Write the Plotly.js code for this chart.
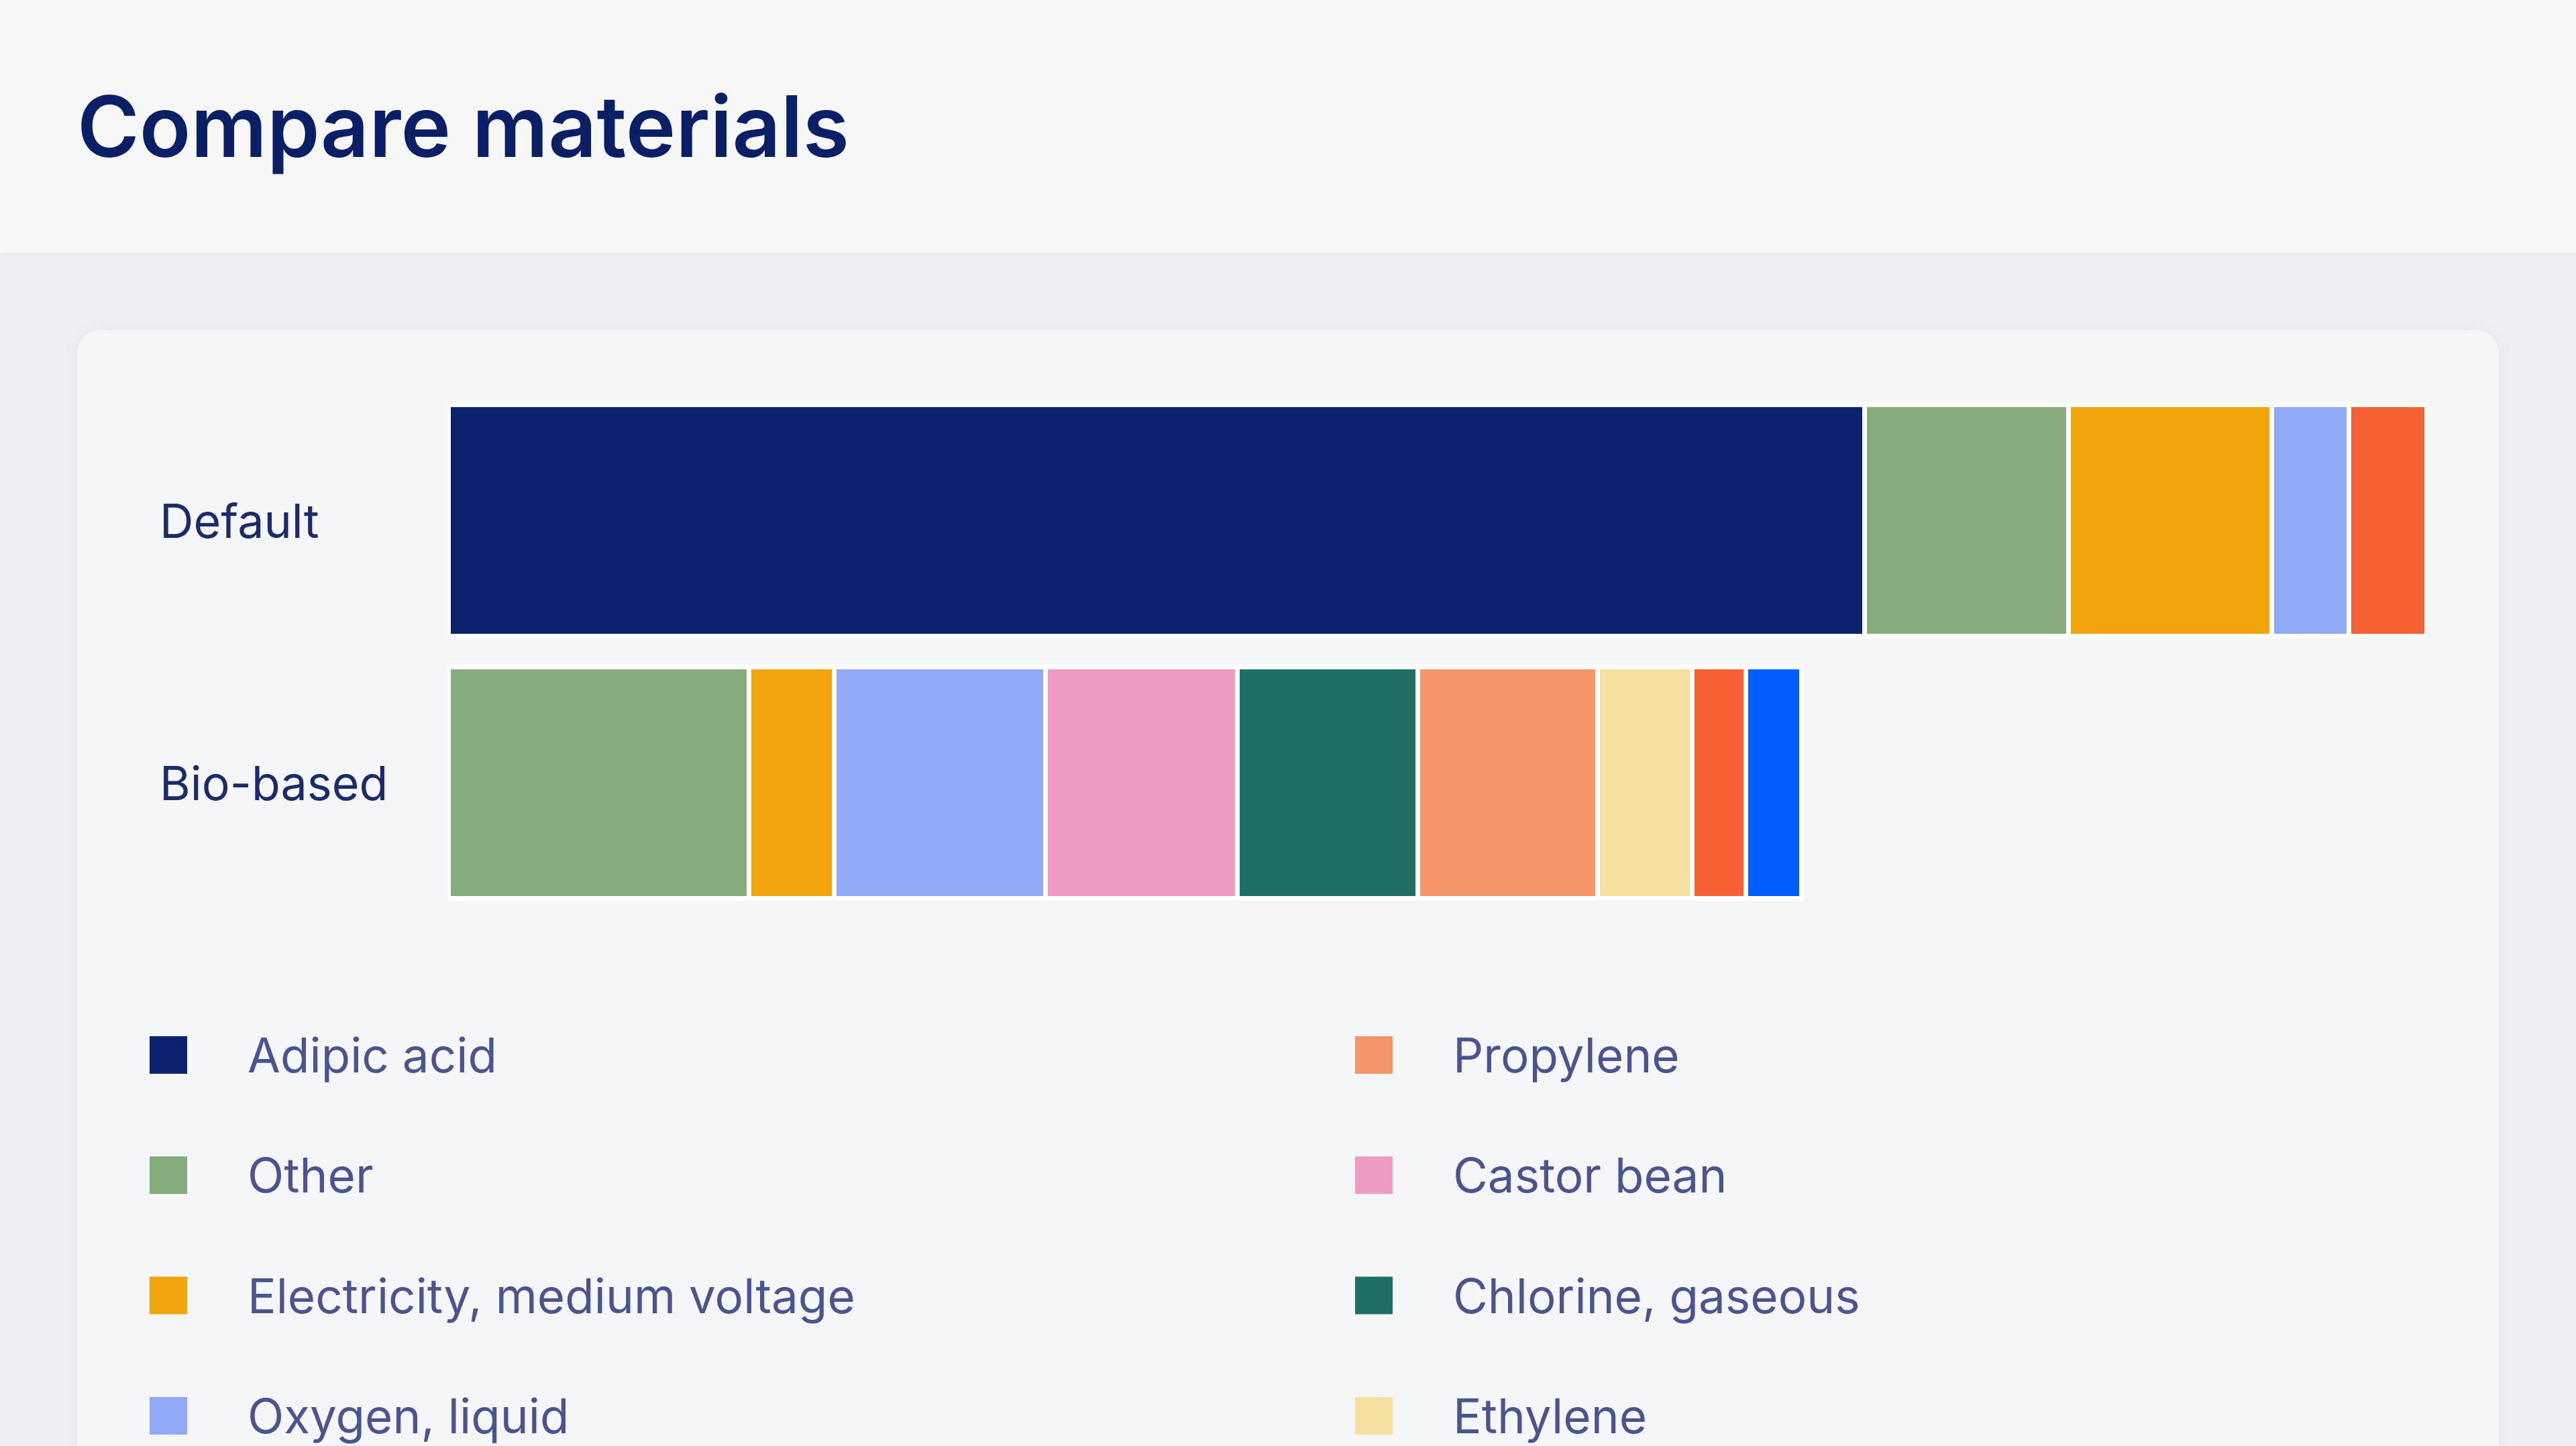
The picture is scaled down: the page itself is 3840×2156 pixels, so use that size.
<!DOCTYPE html>
<html>
<head>
<meta charset="utf-8">
<script src="https://cdn.plot.ly/plotly-3.0.1.min.js"></script>
<style>
  html, body { margin: 0; padding: 0; width: 3840px; height: 2156px; overflow: hidden; background: #eef0f4; }
  #header { position: absolute; left: 0; top: 0; width: 3840px; height: 377px; background: #f7f7f8; box-shadow: 0 2px 10px rgba(30,40,80,0.04); }
  #card { position: absolute; left: 115px; top: 492px; width: 3610px; height: 1900px; background: #f5f6f8; border-radius: 34px; box-shadow: 0 0 24px rgba(30,40,80,0.05); }
  #chart { position: absolute; left: 0; top: 0; width: 3840px; height: 2156px; }
</style>
</head>
<body>
<div id="header"></div>
<div id="card"></div>
<div id="chart"></div>
<script>
// ---- Data ----
const categories = ['Default', 'Bio-based'];

const materials = [
  'Adipic acid',
  'Other',
  'Electricity, medium voltage',
  'Oxygen, liquid',
  'Castor bean',
  'Chlorine, gaseous',
  'Propylene',
  'Ethylene',
  'Unlisted material (red)',
  'Unlisted material (blue)'
];
const materialColors = [
  '#0b226e', '#86ac7c', '#f2a40d', '#90aaf8', '#ee9bc3',
  '#1e6f64', '#f59569', '#f5e0a0', '#f66133', '#005efe'
];
const defaultValues = [71.6, 10.3, 10.3, 3.9, null, null, null, null, 3.9, null];
const bioValues     = [null, 15.2, 4.3, 10.7, 9.7, 9.1, 9.1, 4.8, 2.7, 2.8];

// Legend as shown (column-major, two columns; lower rows are cut off in the reference)
const legendNames = [
  'Adipic acid', 'Other', 'Electricity, medium voltage', 'Oxygen, liquid',
  'Propylene', 'Castor bean', 'Chlorine, gaseous', 'Ethylene'
];
const legendColumn = [0, 0, 0, 0, 1, 1, 1, 1];
const legendRow    = [0, 1, 2, 3, 0, 1, 2, 3];

// ---- Layout constants (pixels) ----
const W = 3840, H = 2156;
const plotLeft = 668, plotRight = 3617;
const catCenterTop = 776, catSpacing = 391;
const plotTop = catCenterTop - catSpacing / 2;
const plotBottom = plotTop + catSpacing * categories.length;

const legCol0 = 251, legColStep = 1797;
const legRow0 = 1573, legRowStep = 179.3;

const fontFamily = 'Inter, "Noto Sans", "DejaVu Sans", sans-serif';

// ---- Traces ----
const traces = materials.map((name, i) => ({
  type: 'bar',
  orientation: 'h',
  name: name,
  y: categories,
  x: [defaultValues[i], bioValues[i]],
  marker: { color: materialColors[i], line: { color: '#ffffff', width: 7 } },
  xaxis: 'x', yaxis: 'y',
  hoverinfo: 'name+x',
  showlegend: false
}));

// Legend swatches drawn as markers on a helper axis
traces.push({
  type: 'scatter',
  mode: 'markers',
  x: legendColumn,
  y: legendRow,
  xaxis: 'x2', yaxis: 'y2',
  marker: {
    symbol: 'square',
    size: 56,
    color: legendNames.map(n => materialColors[materials.indexOf(n)]),
    line: { width: 0 }
  },
  hoverinfo: 'skip',
  showlegend: false,
  cliponaxis: false
});

const legendAnnotations = legendNames.map((n, i) => ({
  xref: 'x2', yref: 'y2',
  x: legendColumn[i], y: legendRow[i],
  text: n,
  showarrow: false,
  xanchor: 'left', yanchor: 'middle',
  xshift: 116,
  font: { family: fontFamily, size: 71, color: '#4a5590' }
}));

const categoryAnnotations = categories.map(c => ({
  xref: 'paper', yref: 'y',
  x: 236 / W, y: c,
  text: c,
  showarrow: false,
  xanchor: 'left', yanchor: 'middle',
  font: { family: fontFamily, size: 70, color: '#1b2a6b' }
}));

const totalDefault = defaultValues.reduce((a, b) => a + (b || 0), 0);

const x2r0 = -legCol0 / legColStep;
const x2r1 = x2r0 + W / legColStep;
const y2t = -legRow0 / legRowStep;
const y2b = y2t + H / legRowStep;

const layout = {
  width: W, height: H,
  margin: { l: 0, r: 0, t: 0, b: 0, pad: 0 },
  paper_bgcolor: 'rgba(0,0,0,0)',
  plot_bgcolor: 'rgba(0,0,0,0)',
  barmode: 'stack',
  bargap: 0.12,
  showlegend: false,
  font: { family: fontFamily, color: '#1b2a6b' },
  title: {
    text: 'Compare materials',
    x: 115 / W, xanchor: 'left', xref: 'container',
    y: 1 - 190 / H, yanchor: 'middle', yref: 'container',
    font: { family: fontFamily, size: 126, weight: 600, color: '#0b1f66' }
  },
  xaxis: {
    domain: [plotLeft / W, plotRight / W],
    range: [0, totalDefault],
    visible: false, fixedrange: true
  },
  yaxis: {
    domain: [1 - plotBottom / H, 1 - plotTop / H],
    type: 'category',
    autorange: 'reversed',
    visible: false, fixedrange: true
  },
  xaxis2: { domain: [0, 1], anchor: 'y2', range: [x2r0, x2r1], visible: false, fixedrange: true },
  yaxis2: { domain: [0, 1], anchor: 'x2', range: [y2b, y2t], visible: false, fixedrange: true },
  annotations: categoryAnnotations.concat(legendAnnotations)
};

Plotly.newPlot('chart', traces, layout, { displayModeBar: false, staticPlot: true });
</script>
</body>
</html>
